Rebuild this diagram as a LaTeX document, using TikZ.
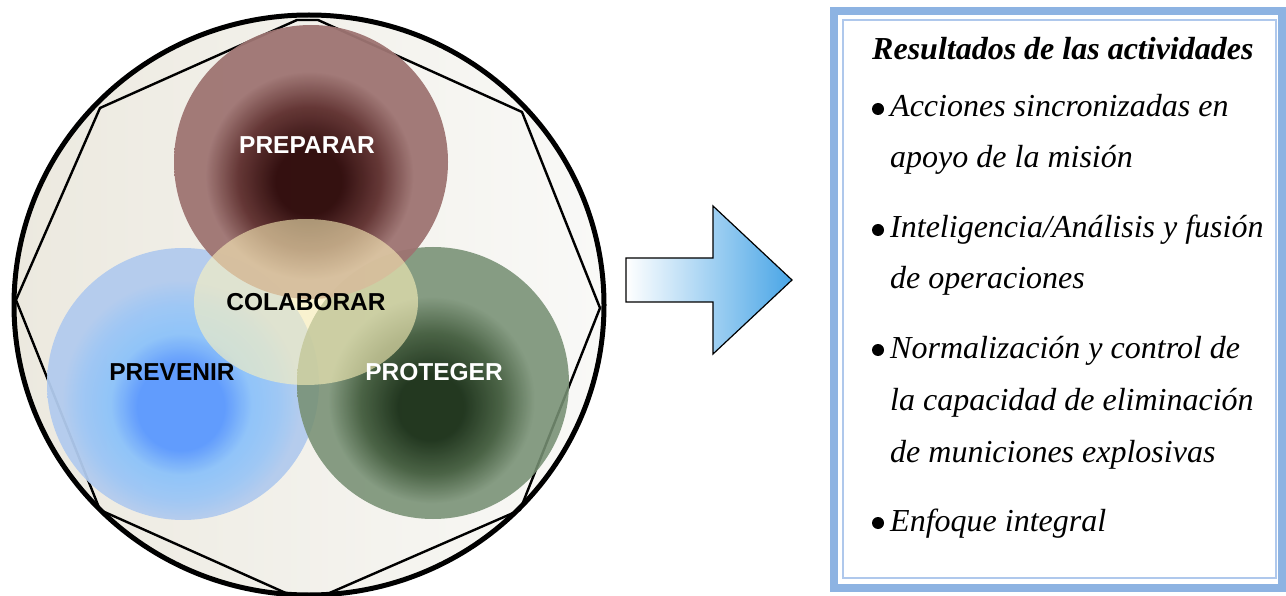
\documentclass[tikz,border=0pt]{standalone}
\usepackage{fontspec}
\setmainfont{Liberation Serif}
\setsansfont{Liberation Sans}
\usetikzlibrary{positioning}

\definecolor{boxblue}{HTML}{8DB3E2}
\definecolor{boxline}{HTML}{AFC8EC}
\definecolor{bgleft}{HTML}{ECE9DF}
\definecolor{bgright}{HTML}{F9F9F7}
\definecolor{arrowblue}{HTML}{49A5E6}
\definecolor{predark}{HTML}{2A0505}
\definecolor{premid}{HTML}{5E2E2D}
\definecolor{prelight}{HTML}{9E7472}
\definecolor{prvdark}{HTML}{5A98FF}
\definecolor{prvmid}{HTML}{8CC2FA}
\definecolor{prvlight}{HTML}{B2CBEE}
\definecolor{prodark}{HTML}{061E04}
\definecolor{promid}{HTML}{34502F}
\definecolor{prolight}{HTML}{779074}
\definecolor{colfill}{HTML}{FFF4BC}

% radial glows, centre a bit below the middle
\pgfdeclareradialshading{preglow}{\pgfpoint{-0.5bp}{-4bp}}{color(0bp)=(predark); color(6bp)=(predark); color(13bp)=(premid); color(19bp)=(prelight); color(50bp)=(prelight)}
\pgfdeclareradialshading{prvglow}{\pgfpoint{-0.5bp}{-5bp}}{color(0bp)=(prvdark); color(8bp)=(prvdark); color(13bp)=(prvmid); color(18bp)=(prvmid!60!prvlight); color(22bp)=(prvlight); color(50bp)=(prvlight)}
\pgfdeclareradialshading{proglow}{\pgfpoint{-0.5bp}{-5bp}}{color(0bp)=(prodark); color(6bp)=(prodark); color(13bp)=(promid); color(19bp)=(prolight); color(50bp)=(prolight)}

\tikzset{
    circ/.style = {fill opacity=0.95, draw=none},
    lbl/.style = {font=\sffamily\bfseries\fontsize{24.5}{28}\selectfont, anchor=base, inner sep=0pt},
    line/.style = {font=\itshape\fontsize{32}{38}\selectfont, anchor=base west, inner sep=0pt}
}

\begin{document}
\begin{tikzpicture}[x=1pt, y=-1pt]

    \useasboundingbox (0,0) rectangle (1286,596);

    % outer disc and octagon
    \shade[left color=bgleft, right color=bgright] (309,305) ellipse [x radius=295, y radius=290];
    \draw[line width=2.4] (297,20) -- (318,20) -- (522,112) -- (600,308) -- (520,510)
        -- (318,598) -- (297,598) -- (100,510) -- (16,300) -- (100,108) -- cycle;
    \draw[line width=5] (309,305) ellipse [x radius=295, y radius=290];

    % the three circles
    \shade[circ, shading=prvglow] (183,384) circle [radius=136];
    \shade[circ, fill opacity=0.88, shading=proglow] (433,383) circle [radius=136];
    \shade[circ, shading=preglow] (311,162) circle [radius=137];

    % centre
    \fill[colfill, fill opacity=0.58] (306,302) ellipse [x radius=112, y radius=83];

    \node[lbl, white] (prep) at (307,154) {PREPARAR};
    \node[lbl] (colab) at (306,310) {COLABORAR};
    \node[lbl] (prev) at (172,380) {PREVENIR};
    \node[lbl, white] (prot) at (434,380) {PROTEGER};

    % block arrow
    \shade[left color=white, right color=arrowblue, draw=black, line width=1.2]
        (626,258) -- (713,258) -- (713,206) -- (792,280) -- (713,354) -- (713,302) -- (626,302) -- cycle;

    % results box
    \draw[boxblue, line width=8] (834,11) rectangle (1282,588);
    \draw[boxline, line width=2] (842.5,20) rectangle (1276,578);

    \node[line, font=\bfseries\itshape\fontsize{32}{38}\selectfont] (title) at (872,60) {Resultados de las actividades};
    \node[line] (acc1) at (890,117) {Acciones sincronizadas en};
    \node[line] (acc2) at (890,168) {apoyo de la misión};
    \node[line] (int1) at (890,238) {Inteligencia/Análisis y fusión};
    \node[line] (int2) at (890,289) {de operaciones};
    \node[line] (nor1) at (890,358) {Normalización y control de};
    \node[line] (nor2) at (890,410) {la capacidad de eliminación};
    \node[line] (nor3) at (890,462) {de municiones explosivas};
    \node[line] (enf) at (890,531) {Enfoque integral};

    % bullets
    \foreach \n in {acc1,int1,nor1,enf}
        \fill ([xshift=-12pt, yshift=8pt]\n.base west) circle [radius=6pt];

\end{tikzpicture}
\end{document}
